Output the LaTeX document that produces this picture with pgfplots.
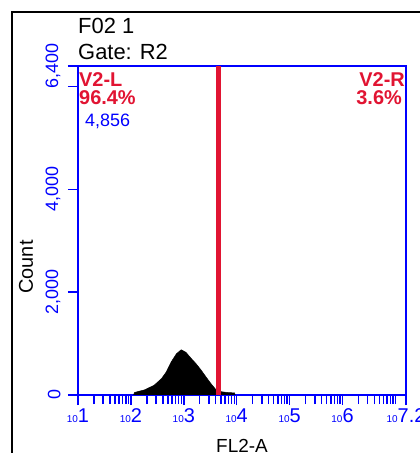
\documentclass[border=0pt]{standalone}
\usepackage{pgfplots}
\pgfplotsset{compat=1.18}
\usepackage{fontspec}
\setmainfont{Liberation Sans}
\definecolor{fcsblue}{RGB}{0,0,255}
\definecolor{fcsred}{RGB}{225,20,50}
\newcommand{\dec}[1]{{\fontsize{10}{10}\selectfont 10}#1}

\begin{document}
\begin{tikzpicture}
\path[use as bounding box] (-78bp,-58bp) rectangle (342bp,395bp);
% outer panel frame
\draw[line width=1.5bp] (-66bp,-70bp) -- (-66bp,383bp) -- (350bp,383bp);
\begin{axis}[
    at={(0,0)}, anchor=south west,
    scale only axis,
    width=328bp, height=329bp,
    xmin=1, xmax=7.2,
    ymin=0, ymax=6400,
    axis line style={draw=fcsblue, line width=1.5bp},
    tick style={draw=fcsblue, line width=1.5bp},
    tick align=outside,
    xtick pos=left, ytick pos=left,
    major tick length=10bp, minor tick length=9bp,
    xtick={1,2,3,4,5,6,7.2},
    xticklabels={\dec{1},\dec{2},\dec{3},\dec{4},\dec{5},\dec{6},\dec{7.2}},
    minor xtick={1.301,1.477,1.602,1.699,1.778,1.845,1.903,1.954,
                 2.301,2.477,2.602,2.699,2.778,2.845,2.903,2.954,
                 3.301,3.477,3.602,3.699,3.778,3.845,3.903,3.954,
                 4.301,4.477,4.602,4.699,4.778,4.845,4.903,4.954,
                 5.301,5.477,5.602,5.699,5.778,5.845,5.903,5.954,
                 6.301,6.477,6.602,6.699,6.778,6.845,6.903,6.954,7},
    ytick={0,2000,4000,6000,6400},
    yticklabels={0,{2,000},{4,000},{},{6,400}},
    tick label style={font=\fontsize{18}{18}\selectfont, text=fcsblue},
    yticklabel style={rotate=90, anchor=south},
    yticklabel shift=4bp,
    xticklabel style={anchor=north, font=\fontsize{20}{20}\selectfont},
    xlabel={FL2-A},
    xlabel style={font=\fontsize{19}{19}\selectfont, at={(axis description cs:0.5,-0.133)}, anchor=north, inner sep=0pt},
    ylabel={Count},
    ylabel style={font=\fontsize{20}{20}\selectfont, at={(axis description cs:-0.1372,0.389)}, anchor=base, inner sep=0pt},
]
% FL2-A histogram (x in decades)
\addplot[fill=black, draw=black, line width=0.5bp] coordinates {
    (2.05,0) (2.07,50) (2.26,100) (2.44,190) (2.58,320) (2.67,450)
    (2.76,640) (2.86,800) (2.95,880) (3.04,830) (3.14,710) (3.23,610)
    (3.33,480) (3.42,350) (3.51,225) (3.61,100) (3.70,65) (3.81,50)
    (3.96,40) (3.97,0)
} \closedcycle;
% V2 marker
\addplot[fcsred, line width=5bp] coordinates {(3.665,0) (3.665,6400)};
\end{axis}
\node[anchor=base west, inner sep=0pt, font=\fontsize{22}{22}\selectfont] at (0bp,361bp) {F02 1};
\node[anchor=base west, inner sep=0pt, font=\fontsize{22}{22}\selectfont] at (0bp,335bp) {Gate: R2};
\node[anchor=base west, inner sep=0pt, text=fcsred, font=\fontsize{20}{20}\selectfont\bfseries] at (1bp,308bp) {V2-L};
\node[anchor=base west, inner sep=0pt, text=fcsred, font=\fontsize{20}{20}\selectfont\bfseries] at (1bp,290bp) {96.4\%};
\node[anchor=base west, inner sep=0pt, text=fcsblue, font=\fontsize{18}{18}\selectfont] at (7bp,268bp) {4,856};
\node[anchor=base east, inner sep=0pt, text=fcsred, font=\fontsize{20}{20}\selectfont\bfseries] at (327bp,308bp) {V2-R};
\node[anchor=base east, inner sep=0pt, text=fcsred, font=\fontsize{20}{20}\selectfont\bfseries] at (324bp,290bp) {3.6\%};
\end{tikzpicture}
\end{document}
